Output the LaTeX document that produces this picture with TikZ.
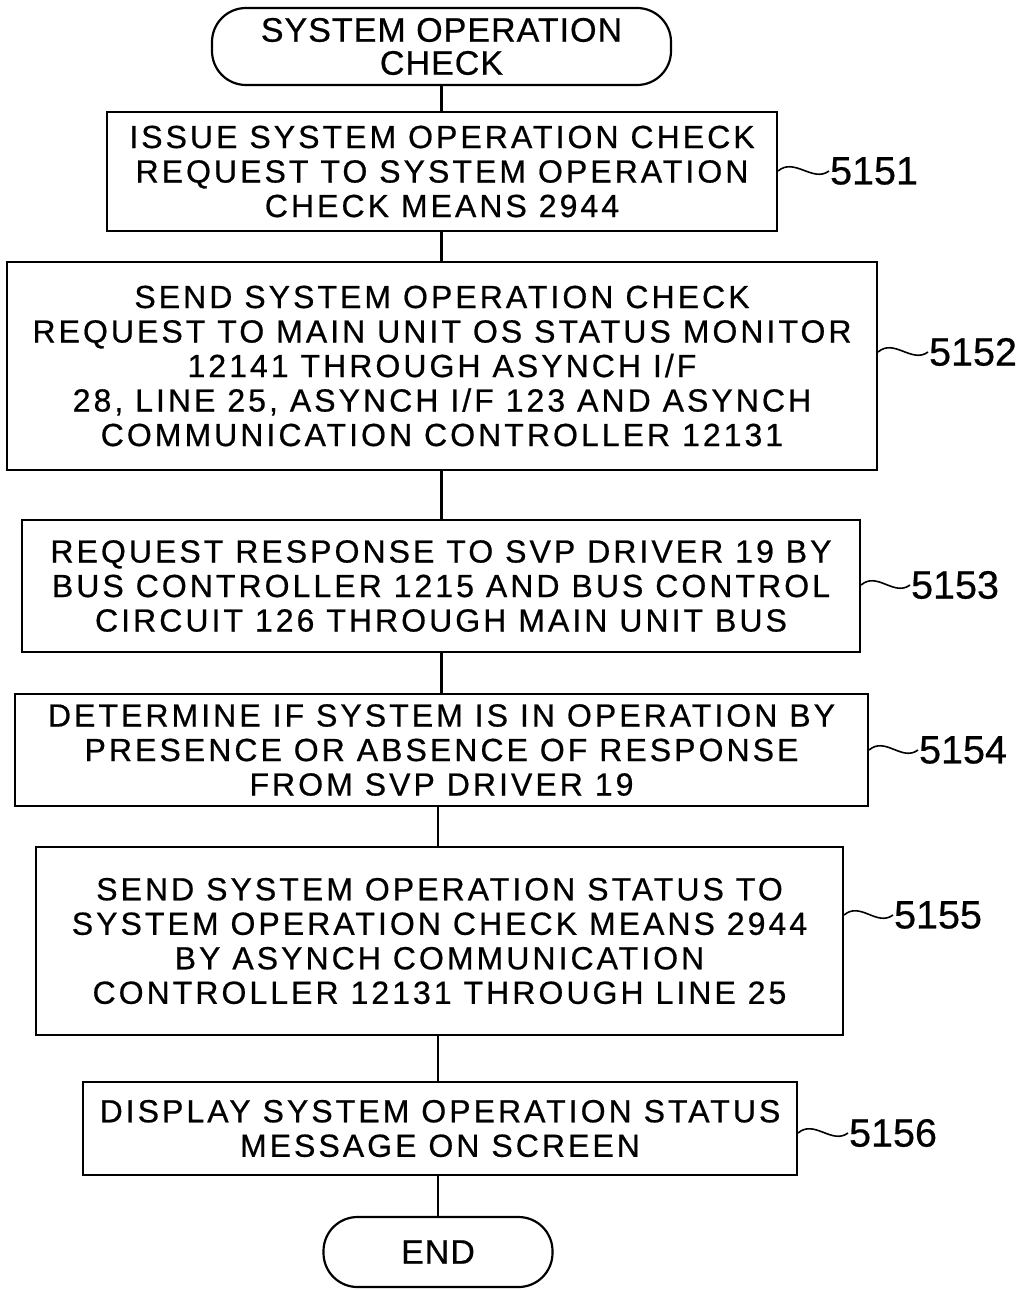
\documentclass[tikz,border=0pt]{standalone}
\usepackage{fontspec}
\newfontfamily\boxfont{Liberation Sans}[LetterSpace=9.5,FakeBold=0.6]
\newfontfamily\labfont{Liberation Sans}[FakeBold=0.6]
\newfontfamily\termfont{Liberation Sans}[LetterSpace=3,FakeBold=0.6]
\begin{document}
\begin{tikzpicture}[x=1pt,y=-1pt,
  line width=2.2pt,
  stepbox/.style={draw, rectangle, inner sep=0pt, align=center,
    font=\boxfont\fontsize{32}{34.5}\selectfont},
  term/.style={draw, rectangle, rounded corners=34pt, inner sep=0pt, align=center,
    font=\termfont\fontsize{34}{33}\selectfont},
  lab/.style={anchor=west, inner sep=0pt, font=\labfont\fontsize{39.5}{40}\selectfont},
  wave/.style={line width=1.6pt}]
\useasboundingbox (0,0) rectangle (1029,1290);

\node[term, minimum width=459pt, minimum height=77pt] (start) at (441.5,46.5)
  {SYSTEM OPERATION\\CHECK};
\node[stepbox, minimum width=670pt, minimum height=119pt] (b1) at (442,171.5)
  {ISSUE SYSTEM OPERATION CHECK\\REQUEST TO SYSTEM OPERATION\\CHECK MEANS 2944};
\node[stepbox, minimum width=870pt, minimum height=208pt] (b2) at (442,366)
  {SEND SYSTEM OPERATION CHECK\\REQUEST TO MAIN UNIT OS STATUS MONITOR\\12141 THROUGH ASYNCH I/F\\28, LINE 25, ASYNCH I/F 123 AND ASYNCH\\COMMUNICATION CONTROLLER 12131};
\node[stepbox, minimum width=838pt, minimum height=132pt] (b3) at (441,586)
  {REQUEST RESPONSE TO SVP DRIVER 19 BY\\BUS CONTROLLER 1215 AND BUS CONTROL\\CIRCUIT 126 THROUGH MAIN UNIT BUS};
\node[stepbox, minimum width=853pt, minimum height=112pt] (b4) at (441.5,750)
  {DETERMINE IF SYSTEM IS IN OPERATION BY\\PRESENCE OR ABSENCE OF RESPONSE\\FROM SVP DRIVER 19};
\node[stepbox, minimum width=807pt, minimum height=188pt] (b5) at (439.5,941)
  {SEND SYSTEM OPERATION STATUS TO\\SYSTEM OPERATION CHECK MEANS 2944\\BY ASYNCH COMMUNICATION\\CONTROLLER 12131 THROUGH LINE 25};
\node[stepbox, minimum width=714pt, minimum height=93pt] (b6) at (440,1128.5)
  {DISPLAY SYSTEM OPERATION STATUS\\MESSAGE ON SCREEN};
\node[term, minimum width=229pt, minimum height=70pt] (end) at (438,1252) {END};

\draw (start.south) -- (start.south |- b1.north);
\draw (b1.south -| start.south) -- (start.south |- b2.north);
\draw (b2.south -| start.south) -- (start.south |- b3.north);
\draw (b3.south -| start.south) -- (start.south |- b4.north);
\draw (b4.south -| end.north) -- (end.north |- b5.north);
\draw (b5.south -| end.north) -- (end.north |- b6.north);
\draw (b6.south -| end.north) -- (end.north);

\node[lab] (l1) at (829,171) {5151};
\node[lab] (l2) at (928,352) {5152};
\node[lab] (l3) at (910,585) {5153};
\node[lab] (l4) at (918,750) {5154};
\node[lab] (l5) at (893,915) {5155};
\node[lab] (l6) at (848,1133) {5156};

\foreach \b/\l in {b1/l1,b2/l2,b3/l3,b4/l4,b5/l5,b6/l6}{
  \draw[wave] (\b.east |- \l.west) .. controls +(16,-14) and +(-16,12) .. (\l.west);
}
\end{tikzpicture}
\end{document}
